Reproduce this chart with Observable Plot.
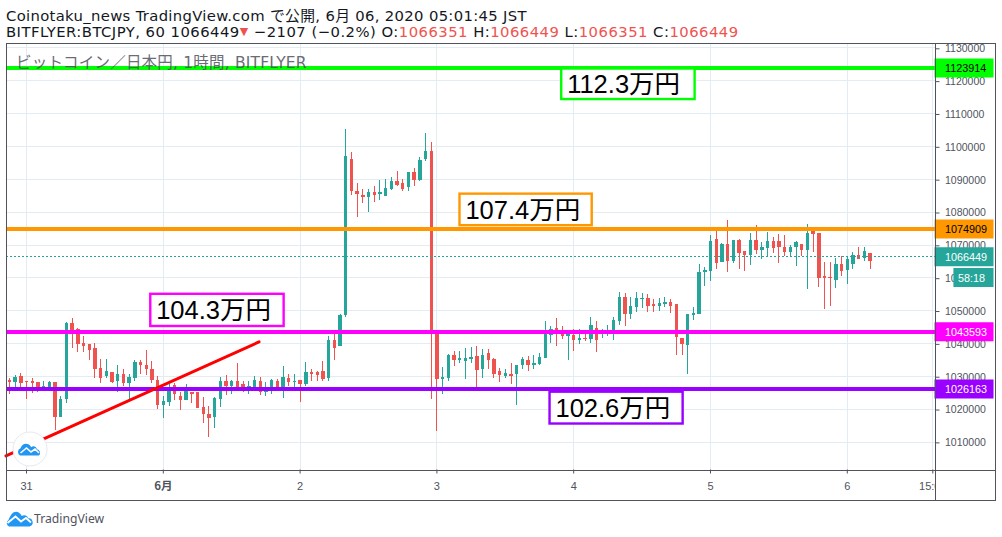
<!DOCTYPE html>
<html lang="ja"><head><meta charset="utf-8">
<script src="https://cdn.jsdelivr.net/npm/d3@7"></script>
<script src="https://cdn.jsdelivr.net/npm/@observablehq/plot@0.6"></script>
<style>
html,body{margin:0;padding:0;background:#fff;width:1002px;height:537px;overflow:hidden}
#chart{position:absolute;left:0;top:0}
.h{position:absolute;left:6px;white-space:nowrap;font-family:"DejaVu Sans","Noto Sans CJK JP",sans-serif;color:#131722;font-size:14.8px;line-height:16px}
.r{color:#ef5350}
</style></head><body>
<div id="chart"></div>
<div class="h" id="l1" style="top:8px;letter-spacing:.33px">Coinotaku_news TradingView.com で公開, 6月 06, 2020 05:01:45 JST</div>
<div class="h" id="l2" style="top:24px;letter-spacing:.47px">BITFLYER:BTCJPY, 60 1066449<span class="r" style="font-size:11px;vertical-align:2px">▼</span> −2107 (−0.2%) O:<span class="r">1066351</span> H:<span class="r">1066449</span> L:<span class="r">1066351</span> C:<span class="r">1066449</span></div>
<div class="h" id="pt" style="left:16px;top:55px;font-size:15.5px;color:#50535e;opacity:.85;letter-spacing:.2px">ビットコイン／日本円, 1時間, BITFLYER</div>
<svg style="position:absolute;left:12px;top:431px" width="36" height="36" viewBox="0 0 36 36"><circle cx="18" cy="18" r="17" fill="#fff" stroke="#e6e9ee" stroke-width="1"/><path d="M8 24.5a4 4 0 0 1 .5-7.2c1-3 3.6-5 6.5-4.3c2 .2 3.4 1.5 4.2 3.2c1.7-1.6 5-1 5.6 1.7a4 4 0 0 1 2.2 6.6z" fill="#2196f3"/><path d="M8.5 22l6-5l4.5 4l4-3l4 4" fill="none" stroke="#fff" stroke-width="1.6"/></svg>
<svg style="position:absolute;left:6px;top:511px" width="27" height="16" viewBox="0 0 27 16"><path d="M3 15.5a3.6 3.6 0 0 1-.5-6.4C4.5 4 7 .5 10.5.8c2.5.3 4.2 2 5.3 4.2c2-1.500 5.700-1 6.300 2.300a4.200 4.200 0 0 1 1.600 8.200z" fill="#2196f3"/><path d="M1.500 12l8-6.500l5.500 5l5-3.500l5 4.500" fill="none" stroke="#fff" stroke-width="1.800"/></svg>
<div class="h" style="left:34px;top:511px;font-size:12.2px;color:#50535e;font-family:'Noto Sans',sans-serif">TradingView</div>
<script>
// hours since 31 May 00:00 JST
const hours = d3.range(-3, 149);
const opens = [
1028700,1028000,1030100,1028300,1028300,1028000,1026600,1026700,1028000,1017600,1023100,1046000,1044400,1039900,1039600,1038600,
1032500,1030100,1031300,1028300,1030700,1027700,1029500,1034100,1033200,1032200,1028900,1021000,1022200,1027100,1024000,1022800,
1025000,1025000,1020400,1018500,1017600,1023100,1028600,1026800,1028300,1027400,1026500,1026700,1028600,1025000,1026700,1028600,
1026700,1029500,1028000,1028900,1027400,1031300,1031300,1031600,1029500,1040800,1039000,1048400,1095900,1086200,1085200,1084600,
1085850,1085500,1084900,1086800,1089500,1088600,1087400,1092200,1089800,1095900,1098600,1042800,1029200,1029500,1036500,1034700,
1034400,1035000,1036200,1032000,1037100,1035000,1031400,1030100,1030700,1030700,1033200,1034700,1033200,1033500,1035300,1042600,
1044700,1042900,1042300,1042600,1040800,1041400,1041100,1044700,1043200,1043400,1043600,1046600,1053900,1049000,1051100,1053300,
1053600,1051750,1051400,1051750,1052400,1051750,1041400,1039300,1048400,1049000,1061500,1061800,1071800,1064800,1070300,1065100,
1071500,1067900,1066700,1071500,1068200,1068800,1071200,1071200,1069400,1067600,1069100,1070300,1068200,1074000,1073400,1060300,
1060000,1059100,1064200,1062400,1064200,1066700,1065750,1067300];
const highs = [
1029400,1030200,1031000,1028300,1029500,1028000,1028300,1028300,1028100,1024000,1046300,1047500,1044700,1042000,1039600,1039900,
1035000,1035000,1031300,1033200,1032200,1030700,1034700,1034700,1038000,1034400,1030100,1024000,1027400,1027700,1025200,1027400,
1025200,1025000,1023600,1020700,1023700,1029800,1030400,1028900,1033800,1028300,1028300,1030100,1029800,1028000,1029200,1029200,
1032900,1030700,1030700,1028900,1034100,1032200,1031600,1034400,1042300,1044000,1048800,1105300,1098100,1088600,1087000,1086800,
1087700,1089800,1090100,1090700,1092500,1090100,1092200,1093200,1096800,1104100,1101100,1044000,1032600,1036800,1037700,1037700,
1038600,1038700,1039000,1038100,1038100,1035300,1032300,1032000,1033800,1033200,1035900,1036200,1036500,1037100,1046600,1045100,
1047500,1045100,1044100,1044400,1044400,1044100,1047800,1046600,1044400,1045400,1047800,1055700,1055100,1053900,1055700,1055100,
1054800,1053300,1053600,1053900,1053300,1051750,1041400,1048700,1051100,1064200,1063300,1072800,1074600,1070600,1077600,1071500,
1071800,1067900,1073400,1076100,1070900,1073700,1072400,1073100,1072800,1070000,1071200,1070300,1076400,1074000,1073400,1064800,
1064800,1065750,1066400,1066400,1067600,1069100,1069100,1067300];
const lows = [
1024600,1026300,1026700,1023100,1024700,1025000,1025300,1025300,1013400,1017600,1021600,1038600,1037400,1037400,1034700,1029500,
1027700,1029500,1027700,1025200,1026800,1023100,1028600,1030700,1030400,1027700,1019900,1017300,1020700,1022800,1019500,1022800,
1021600,1020100,1015700,1011500,1014000,1020400,1024300,1024600,1025900,1025200,1024600,1026600,1024300,1024000,1024600,1026600,
1023400,1027000,1026700,1022200,1026800,1028600,1028600,1028300,1028300,1034700,1039000,1048000,1085200,1078500,1082800,1080000,
1083100,1083700,1084900,1086500,1087700,1086200,1086200,1087700,1089500,1095300,1023100,1013100,1024600,1028300,1032900,1033800,
1029200,1033800,1026700,1029500,1032000,1029500,1028000,1029500,1027400,1021000,1032000,1031400,1032000,1033200,1035300,1039900,
1039000,1041100,1034700,1037700,1039600,1040500,1039900,1037400,1041400,1042300,1040800,1045400,1045100,1047200,1049600,1050800,
1049600,1049600,1049900,1051100,1049300,1036500,1036500,1030700,1046900,1048700,1057500,1059000,1062700,1064800,1061500,1064500,
1062700,1061800,1063900,1067000,1065450,1066400,1067300,1064500,1066400,1066400,1063600,1066400,1056600,1067600,1057200,1050500,
1051400,1056900,1060300,1058100,1062700,1065450,1065100,1062700];
const closes = [
1028100,1029800,1027700,1028000,1027700,1026700,1026800,1028000,1017600,1023100,1046000,1044100,1039600,1039200,1038000,1032200,
1029500,1031600,1028000,1030700,1027700,1029800,1034100,1033200,1032200,1028900,1021000,1022500,1025500,1024600,1022800,1025500,
1024600,1020100,1018500,1017300,1023400,1028600,1026800,1028300,1026200,1026600,1026900,1028900,1025000,1025600,1028900,1026700,
1029800,1028000,1028600,1027400,1031300,1030700,1030400,1029200,1040800,1038600,1048400,1096900,1086200,1085500,1084600,1085850,
1085200,1085850,1087100,1089500,1088000,1086800,1092000,1089800,1095600,1098600,1042800,1029200,1029800,1036500,1034700,1035600,
1035300,1035900,1031700,1036500,1034700,1030700,1030400,1031000,1030100,1033200,1035000,1033200,1033800,1035900,1042900,1044400,
1042900,1042300,1042900,1040800,1041400,1041100,1045400,1040800,1043400,1043600,1046900,1053900,1049000,1051400,1053600,1053600,
1051400,1051400,1052100,1052400,1051400,1041700,1039600,1048700,1049300,1061500,1062100,1071200,1064500,1070300,1065100,1071500,
1067300,1066700,1071500,1068200,1069400,1071200,1068800,1069100,1067600,1069400,1070900,1068200,1073400,1073100,1059700,1059700,
1059700,1064200,1061800,1065450,1066700,1065450,1067900,1065100];

const levels = [1123914, 1074909, 1043593, 1026163];
const levelColors = ["#00ff00", "#ff9800", "#ff00ff", "#9900ff"];
const levelText = ["#000000", "#000000", "#ffffff", "#ffffff"];
const lastPrice = 1066449;
const countdown = "58:18";
const yTicks = d3.range(1010000, 1130001, 10000);
const dayTicks = [0, 48, 72, 96, 120, 144, 159];
const dayLabels = {0:"31", 48:"2", 72:"3", 96:"4", 120:"5", 144:"6", 159:"15:00"};
const monthTick = [24];
const monthLabel = "6月";
const notes = ["112.3万円", "107.4万円", "104.3万円", "102.6万円"];
const noteX1 = [93.9, 76.05, 21.8, 91.85];
const noteX2 = [117.3, 99.25, 45.2, 115.2];
const noteTop = [1123600, 1085500, 1055000, 1025200];
const noteBottom = [1114300, 1075900, 1045200, 1015500];
const trendX = [-3.6, 40.8];
const trendY = [1005800, 1040500];

const bars = hours.map((h, i) => ({h, o: opens[i], hi: highs[i], lo: lows[i], c: closes[i]}));
const up = d => d.c >= d.o;
const INK = "#50535e", GRID = "#e3ecf2", UP = "#26a69a", DOWN = "#ef5350";
const xPane = 159.386, xTag = 169.74;
const crisp = {shapeRendering: "crispEdges"};

function decor() {
  const g = d3.create("svg:g");
  g.append("rect").attr("x",936).attr("y",472).attr("width",59).attr("height",28).attr("fill","#fff");
  g.append("rect").attr("x",6.5).attr("y",43.5).attr("width",989).attr("height",457).attr("fill","none").attr("stroke",INK);
  g.append("path").attr("d","M6.5 470.5H995.5M935.5 43.5V500.5").attr("fill","none").attr("stroke",INK);
  return g.node();
}

const plot = Plot.plot({
  width: 1002, height: 537,
  marginLeft: 6, marginRight: 67.5, marginTop: 43, marginBottom: 67.5,
  style: {background: "transparent", fontFamily: "'Liberation Sans',sans-serif"},
  x: {domain: [-3.509, xPane], label: null},
  y: {domain: [1001500, 1131370], label: null},
  marks: [
    Plot.gridX([0,24,48,72,96,120,144,159], {stroke: GRID, strokeOpacity: 1, strokeWidth: 1, ...crisp}),
    Plot.gridY(yTicks, {stroke: GRID, strokeOpacity: 1, strokeWidth: 1, ...crisp}),
    Plot.axisX(dayTicks, {anchor: "bottom", tickSize: 4, tickPadding: 8, stroke: INK, fill: INK, fontSize: 11, tickFormat: d => dayLabels[d], label: null}),
    Plot.axisX(monthTick, {anchor: "bottom", tickSize: 4, tickPadding: 8, stroke: INK, fill: INK, fontSize: 11.5, fontWeight: "bold", fontFamily: "'Noto Sans CJK JP'", tickFormat: () => monthLabel, label: null}),
    Plot.axisY(yTicks, {anchor: "right", tickSize: 4, tickPadding: 6, dy: 0.8, stroke: INK, fill: INK, fontSize: 10.5, tickFormat: d => String(d), label: null}),
    Plot.ruleX(bars, {x: "h", y1: "lo", y2: "hi", stroke: d => up(d) ? UP : DOWN, strokeWidth: 1, ...crisp}),
    Plot.ruleX(bars, {x: "h", y1: "o", y2: "c", stroke: d => up(d) ? UP : DOWN, strokeWidth: 3.4, ...crisp}),
    Plot.ruleY([lastPrice], {x1: -3.509, x2: xPane, stroke: UP, strokeWidth: 1, strokeDasharray: "2,2", ...crisp}),
    Plot.ruleY(levels, {x1: -3.509, x2: xPane, stroke: (d, i) => levelColors[i], strokeWidth: 4, ...crisp}),
    Plot.line(trendX.map((x, i) => ({x, y: trendY[i]})), {x: "x", y: "y", stroke: "#ff0000", strokeWidth: 3}),
    Plot.rect(notes, {x1: (d, i) => noteX1[i], x2: (d, i) => noteX2[i], y1: (d, i) => noteTop[i], y2: (d, i) => noteBottom[i], fill: "#fff", stroke: (d, i) => levelColors[i], strokeWidth: 2.4}),
    Plot.text(notes, {x: (d, i) => noteX1[i] + 0.95, y: (d, i) => noteBottom[i], text: d => d, textAnchor: "start", lineAnchor: "bottom", dy: -7, fontSize: 25.5, fill: "#000", fontFamily: "'Liberation Sans','Noto Sans CJK JP'"}),
    Plot.ruleY(levels, {x1: xPane, x2: xTag, stroke: (d, i) => levelColors[i], strokeWidth: 19}),
    Plot.ruleY([lastPrice], {x1: xPane, x2: xTag, stroke: UP, strokeWidth: 19}),
    Plot.ruleY([1060100], {x1: 162.7, x2: xTag, stroke: UP, strokeWidth: 19}),
    Plot.text(levels, {x: xPane + 1.75, y: d => d, dy: 1, text: d => String(d), textAnchor: "start", fill: (d, i) => levelText[i], fontSize: 10.8}),
    Plot.text([lastPrice], {x: xPane + 1.75, y: d => d, dy: 1, text: d => String(d), textAnchor: "start", fill: "#fff", fontSize: 10.8}),
    Plot.text([countdown], {x: 163.4, y: () => 1060100, dy: 1, text: d => d, textAnchor: "start", fill: "#fff", fontSize: 10.8}),
    decor
  ]
});
document.getElementById("chart").appendChild(plot);
</script>
</body></html>
